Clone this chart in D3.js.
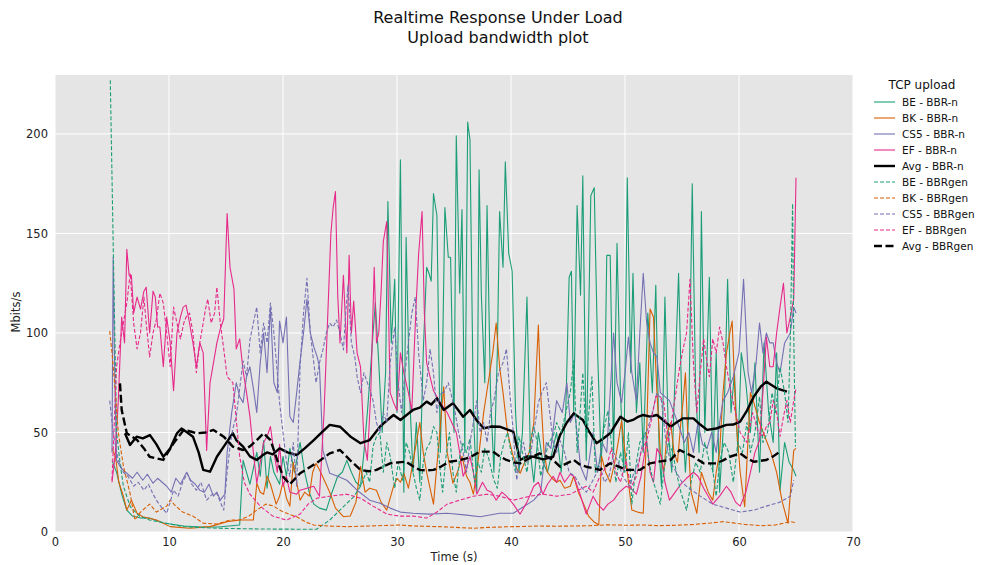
<!DOCTYPE html>
<html>
<head>
<meta charset="utf-8">
<script src="https://cdn.jsdelivr.net/npm/d3@7"></script>
<style>
  body { margin: 0; background: #fff; font-family: "DejaVu Sans", sans-serif; }
  svg text { font-family: "DejaVu Sans", sans-serif; }
</style>
</head>
<body>
<div id="chart"></div>
<script>
// series: [time (s), Mbits/s]
var beN = [[5.0,36],[5.4,30],[5.9,18],[6.3,11],[6.8,8],[7.5,7],[8.3,7],[9.5,4.5],[11.3,3],[12.8,2.5],[14.3,2.5],[16.2,3.5],[16.5,36],[16.8,30],[17.1,24],[17.4,32],[17.7,40],[18.0,28],[18.3,46],[18.6,22],[18.9,38],[19.2,30],[19.7,24],[20.0,38],[20.3,28],[20.6,42],[21.0,30],[21.5,45],[21.9,30],[22.3,20],[22.7,14],[23.2,12],[23.8,11],[24.3,20],[24.8,28],[25.2,30],[25.6,36],[26.0,30],[26.4,25],[26.8,23],[27.1,40],[27.4,60],[27.6,75],[27.9,100],[28.1,115],[28.4,85],[28.7,50],[29.0,80],[29.2,166],[29.5,95],[29.8,127],[30.0,60],[30.3,187],[30.6,20],[30.8,148],[31.1,70],[31.4,30],[31.7,55],[32.0,25],[32.3,90],[32.6,133],[32.8,130],[33.0,126],[33.2,170],[33.5,159],[33.8,40],[34.0,90],[34.2,163],[34.5,138],[34.7,138],[35.0,50],[35.2,199],[35.5,120],[35.7,162],[35.95,40],[36.2,206],[36.4,197],[36.7,60],[37.0,20],[37.2,182],[37.4,119],[37.7,75],[37.9,164],[38.2,70],[38.5,30],[38.8,90],[39.0,161],[39.3,133],[39.5,186],[39.8,140],[40.1,131],[40.4,60],[40.7,30],[41.0,50],[41.4,118],[41.7,40],[42.0,25],[42.4,50],[42.8,35],[43.2,30],[43.6,40],[44.0,50],[44.4,30],[44.8,60],[45.1,128],[45.3,131],[45.5,60],[45.8,164],[46.1,119],[46.3,179],[46.6,36],[47.0,169],[47.3,173],[47.6,90],[47.9,36],[48.2,60],[48.4,139],[48.7,139],[49.0,40],[49.3,145],[49.6,70],[49.9,30],[50.2,178],[50.5,80],[50.7,130],[51.0,60],[51.3,85],[51.6,40],[52.0,110],[52.4,70],[52.7,124],[53.0,40],[53.2,23],[53.5,118],[53.8,50],[54.1,30],[54.4,80],[54.7,130],[55.0,60],[55.3,30],[55.6,60],[55.9,175],[56.2,70],[56.5,40],[56.7,161],[57.0,50],[57.4,128],[57.7,30],[58.0,90],[58.3,20],[58.7,60],[59.0,127],[59.3,60],[59.6,80],[59.9,40],[60.2,90],[60.6,75],[61.0,50],[61.4,85],[61.8,30],[62.2,95],[62.6,60],[63.0,45],[63.3,90],[63.6,21],[64.0,45],[64.4,35],[64.8,31],[65.0,28]];

var bkN = [[5.0,42],[5.3,38],[5.6,25],[6.0,18],[6.3,11],[6.7,16],[7.2,9.4],[7.7,7.7],[8.9,6],[10.1,2.7],[11.8,1.9],[13.6,2.7],[15.1,5.2],[16.2,6],[17.4,6],[17.7,24.5],[18.0,20],[18.3,19],[18.6,28],[18.9,24],[19.4,14],[19.7,18],[20.0,25],[20.3,17],[20.6,13],[20.9,35],[21.2,25],[21.5,16],[21.9,20],[22.3,18],[22.6,30],[22.9,34.5],[23.3,30],[23.7,25],[24.1,20],[24.6,12],[25.3,7.7],[25.9,8],[26.4,15],[26.8,33],[27.2,20],[27.6,22],[28.2,21],[28.6,15],[29.1,11],[29.7,23],[30.0,27],[30.3,25],[30.6,29.5],[31.0,22],[31.4,35],[31.7,45],[32.0,55],[32.3,40],[32.6,30],[33.2,14],[33.6,40],[34.1,73],[34.4,40],[34.9,24.5],[35.3,30],[35.7,38],[36.1,28],[36.4,25],[36.7,19],[37.0,30],[37.3,45],[37.6,60],[38.0,75],[38.4,90],[38.7,105],[39.0,83],[39.3,70],[39.7,50],[40.1,40],[40.5,32],[40.8,29.5],[41.2,35],[41.6,40],[42.0,55],[42.4,104],[42.6,70],[42.9,40],[43.2,30],[43.6,27],[44.0,25],[44.3,26],[44.7,22],[45.2,23],[45.5,28],[45.9,20],[46.3,15],[46.8,8],[47.3,5],[47.7,3.5],[47.95,38],[48.3,30],[48.7,25],[49.1,35],[49.4,45],[49.7,56],[50.0,40],[50.3,25],[50.6,11],[51.1,10],[51.6,9.4],[51.9,50],[52.2,112],[52.5,108],[52.8,70],[53.1,40],[53.4,30],[53.7,50],[54.0,55],[54.3,40],[54.6,35],[54.9,55],[55.1,66],[55.3,80],[55.5,50],[55.8,20],[56.3,9.4],[56.7,30],[57.0,25],[57.3,20],[57.7,16],[58.0,30],[58.3,40],[58.6,70],[58.9,90],[59.2,100],[59.4,106],[59.7,60],[60.1,30],[60.5,12.7],[61.0,70],[61.3,65],[61.8,55],[62.4,46],[62.8,40],[63.3,30],[63.8,15],[64.3,4.4],[64.8,41],[65.0,42]];

var cs5N = [[5.0,40],[5.1,138],[5.25,76],[5.4,36],[5.8,32],[6.3,29.5],[6.8,27],[7.2,30],[7.7,26],[8.1,29],[8.6,24.5],[9.0,27],[9.4,25],[9.8,23],[10.2,20],[10.6,27],[11.0,24],[11.55,30],[11.9,26],[12.3,24],[12.7,21],[13.1,20],[13.5,24],[13.9,18],[14.2,20],[14.5,16],[14.9,19],[15.1,40],[15.5,60],[15.9,75],[16.2,68],[16.5,65],[16.8,78],[17.1,83],[17.4,72],[17.7,60],[18.0,85],[18.3,100],[18.6,80],[18.9,113],[19.2,75],[19.5,70],[19.7,106],[20.0,95],[20.3,108],[20.6,58],[20.9,55],[21.2,70],[21.5,86],[21.8,100],[22.1,117],[22.4,100],[22.7,93],[23.0,88],[23.2,83],[23.5,41],[24.1,29.5],[24.8,28],[25.6,26],[26.5,21],[27.6,16],[28.5,14.4],[29.4,12],[30.3,10],[31.4,9.4],[32.8,9],[34.4,9.4],[36.1,8.5],[37.3,7.7],[39.0,9.4],[40.2,9.4],[41.1,12.7],[42.0,16],[42.6,20],[43.1,45],[43.5,42],[44.0,66],[44.5,60],[44.9,75],[45.2,55],[45.6,60],[46.1,33],[46.6,26],[47.2,50],[47.6,30],[48.0,45],[48.4,40],[48.7,70],[49.0,100],[49.3,75],[49.7,65],[50.0,80],[50.3,98],[50.6,80],[51.0,66],[51.3,100],[51.6,130],[51.9,105],[52.2,95],[52.5,90],[52.8,88],[53.1,70],[53.5,68],[53.9,66],[54.3,60],[54.8,52],[55.2,45],[55.6,50],[56.0,40],[56.4,55],[56.8,44],[57.2,42],[57.6,50],[58.0,40],[58.3,55],[58.6,66],[59.0,70],[59.5,78],[60.0,90],[60.4,127],[60.8,80],[61.1,70],[61.5,85],[61.8,105],[62.1,90],[62.4,100],[62.7,95],[63.0,95],[63.3,85],[63.6,80],[64.0,95],[64.5,100],[64.8,113],[65.0,110]];

var efN = [[5.0,25],[5.3,40],[5.55,66],[5.85,108],[6.1,95],[6.3,142],[6.5,129],[6.7,129],[6.9,110],[7.2,118],[7.5,112],[7.8,121],[8.0,123],[8.3,100],[8.6,121],[8.8,118],[9.0,103],[9.2,103],[9.5,83],[9.8,108],[10.1,95],[10.4,71],[10.7,100],[11.0,108],[11.25,113],[11.5,114],[11.8,105],[12.1,95],[12.4,83],[12.7,95],[13.0,90],[13.3,41],[13.6,75],[13.9,85],[14.2,95],[14.5,102],[14.8,107],[15.1,160],[15.35,133],[15.7,122],[15.9,92],[16.2,97],[16.5,81],[16.8,70],[17.1,58],[17.4,40],[17.7,24.5],[18.0,35],[18.3,45],[18.6,48],[18.9,53],[19.2,40],[19.5,30],[19.7,44],[20.0,23],[20.3,28],[20.6,20],[21.2,19],[21.5,21],[22.1,22],[22.7,23],[23.2,18],[23.6,60],[24.0,120],[24.2,150],[24.4,163],[24.6,171],[24.8,119],[25.0,95],[25.3,129],[25.6,90],[25.8,139],[26.0,100],[26.2,116],[26.5,90],[26.8,83],[27.1,46],[27.4,36],[27.7,70],[28.0,133],[28.2,95],[28.4,100],[28.6,120],[28.8,146],[29.1,156],[29.4,70],[29.7,65],[30.0,61],[30.3,90],[30.6,80],[31.0,70],[31.3,61],[31.5,90],[31.7,117],[31.9,140],[32.2,161],[32.4,110],[32.6,85],[33.2,71],[33.8,65],[34.4,60],[34.8,55],[35.2,50],[35.5,40],[35.8,28],[36.1,32],[36.4,38],[36.7,30],[37.0,19],[37.5,25],[37.9,21],[38.3,20],[38.7,16],[39.2,20],[39.6,18],[40.2,14],[40.8,9],[41.4,15],[42.0,23],[42.4,25],[42.8,19],[43.2,24],[43.7,28],[44.0,25],[44.3,30],[44.7,25],[45.2,29],[45.5,28],[46.0,20],[46.6,9],[47.2,18],[47.6,14],[48.1,11],[48.5,14],[49.0,16],[49.5,20],[50.1,23],[50.5,22],[51.0,19],[51.4,28],[51.9,46],[52.2,30],[52.5,25],[52.8,42],[53.2,38],[53.5,25],[53.9,16],[54.4,20],[54.9,24],[55.4,27],[56.0,30],[56.4,28],[56.9,22],[57.3,18],[57.7,14],[58.3,18],[58.9,23],[59.3,20],[59.7,15],[60.1,13],[60.6,20],[61.0,30],[61.4,40],[61.8,46],[62.1,70],[62.4,98],[62.7,83],[63.0,83],[63.3,100],[63.6,113],[63.9,125],[64.2,100],[64.5,108],[64.8,117],[65.0,178]];

var avgN = [[6.14,49.6],[6.58,43.7],[7.16,47.9],[7.7,47],[8.33,48.7],[8.9,44],[9.5,37.8],[10.1,42],[10.7,49.6],[11.1,52],[11.6,50],[12.1,47.9],[12.6,40],[13.0,31.2],[13.6,30.3],[14.2,37.8],[14.8,42.9],[15.6,49.6],[15.9,46.2],[16.5,42.9],[17.1,38],[17.7,36.2],[18.2,38.5],[18.6,40],[19.1,39],[19.7,42],[20.4,40],[21.2,38.7],[21.9,42],[22.7,46.2],[23.4,50],[24.1,53.8],[25.0,52.9],[25.9,48],[26.8,44.6],[27.6,46.2],[28.5,52.9],[29.1,56],[29.7,58.8],[30.3,56.3],[30.9,59],[31.4,61.3],[32.0,62.5],[32.6,65.5],[33.0,64],[33.5,67.2],[34.1,61.3],[34.9,64.7],[35.4,61],[35.8,57.9],[36.4,61.3],[37.0,56],[37.6,52.1],[38.3,53],[39.0,52.9],[40.2,50.4],[40.8,36.2],[41.4,38],[42.0,37.8],[42.8,36.5],[43.7,37.8],[44.3,48.7],[44.9,55],[45.5,59.6],[46.3,56.3],[46.9,50],[47.5,44.6],[48.1,47],[48.7,49.6],[49.6,57.9],[50.2,55.5],[50.7,56.3],[51.2,58],[51.6,58.8],[52.2,58],[52.8,58.8],[53.4,56],[54.0,52.9],[54.5,55],[55.1,57.1],[56.0,57.1],[56.6,54],[57.2,51.3],[58.0,52],[58.9,53.8],[59.5,54],[60.1,55.4],[60.7,61],[61.3,68],[61.9,73],[62.4,75.5],[63.3,72.2],[64.2,70.5]];

var beGen = [[4.85,227],[5.2,114],[5.4,50],[5.7,35],[6.0,23],[6.6,12.7],[7.4,8],[8.3,6],[9.8,4.4],[11.25,2.7],[14.2,1.9],[18.0,1.5],[21.5,1.4],[22.95,1.4],[24.1,6],[25.3,12.7],[26.2,17.7],[26.8,23],[27.3,30],[27.6,25],[27.9,43],[28.2,48],[28.5,50],[28.8,30],[29.1,45],[29.4,38],[29.8,22],[30.1,35],[30.5,26],[30.8,45],[31.1,40],[31.4,30],[31.7,22],[32.0,16],[32.3,35],[32.6,42],[32.9,45],[33.2,53],[33.5,50],[33.8,30],[34.0,20],[34.3,38],[34.6,50],[34.9,30],[35.2,20],[35.5,38],[35.8,45],[36.1,40],[36.4,47],[36.8,25],[37.1,35],[37.4,30],[37.7,42],[38.0,38],[38.5,26],[38.8,22],[39.1,38],[39.4,45],[39.7,50],[40.0,40],[40.4,30],[40.7,48],[41.0,40],[41.4,30],[41.7,45],[42.0,53],[42.3,45],[42.6,28],[42.9,35],[43.3,45],[43.7,48],[44.0,55],[44.4,50],[44.8,60],[45.2,70],[45.5,86],[45.8,40],[46.0,55],[46.3,80],[46.6,45],[47.1,78],[47.4,30],[47.8,35],[48.1,50],[48.5,61],[48.8,45],[49.2,25],[49.6,40],[50.0,30],[50.3,50],[50.6,14],[51.0,35],[51.3,45],[51.8,50],[52.1,35],[52.5,25],[53.1,14],[53.4,30],[53.8,45],[54.2,40],[54.5,30],[54.9,20],[55.4,11],[55.8,25],[56.2,35],[56.6,30],[57.0,45],[57.4,35],[57.7,31],[58.0,18],[58.3,35],[58.7,45],[59.1,40],[59.5,25],[59.9,45],[60.3,40],[60.7,55],[61.0,40],[61.4,50],[61.8,68],[62.1,45],[62.5,50],[62.9,70],[63.2,60],[63.6,83],[64.0,70],[64.3,55],[64.5,96],[64.7,165],[64.8,100],[64.95,43]];

var bkGen = [[4.8,101],[5.0,90],[5.3,70],[5.55,50],[6.0,33],[6.6,19],[7.0,6],[7.5,10],[8.3,14],[8.9,10],[9.8,13],[10.1,16],[10.6,13],[11.2,10],[12.1,8],[13.0,4.4],[14.2,4],[15.35,6],[16.2,6],[17.0,8],[17.7,11],[18.5,14],[19.2,13],[19.7,11],[20.5,9],[21.2,7.7],[22.0,5],[22.7,3.5],[24.0,3],[25.6,2.7],[27.5,3],[29.0,3.3],[30.3,3.5],[31.5,3],[33.0,2.8],[34.5,2.5],[36.7,1.9],[38.0,2.3],[39.5,2.6],[41.0,2.8],[42.5,3.0],[44.0,2.9],[45.5,3],[47.0,3.2],[48.5,3.6],[50.0,3.4],[51.5,3.5],[53.0,3.2],[54.5,3.4],[56.0,3.8],[57.5,4.5],[58.6,5.2],[59.5,4.6],[60.5,3.8],[62.0,3.2],[63.2,3.5],[64.5,5.2],[64.9,4.8]];

var cs5Gen = [[4.8,66],[5.1,50],[5.55,36],[6.0,30],[6.4,28],[6.9,23],[7.3,25],[7.8,21],[8.2,24],[8.6,19],[9.0,15],[9.4,12],[9.8,9.4],[10.1,15],[10.4,21],[10.8,18],[11.2,25],[11.6,29.5],[12.0,24],[12.4,21],[12.8,25],[13.3,16],[13.8,19],[14.2,19.4],[14.5,15],[14.8,11],[15.1,30],[15.35,43],[15.6,52],[15.9,58],[16.2,72],[16.5,86],[16.8,78],[17.1,96.5],[17.4,105],[17.7,113],[18.0,90],[18.3,105],[18.6,95],[18.9,115],[19.2,100],[19.5,80],[19.7,65],[20.0,50],[20.3,35],[20.6,28],[20.9,45],[21.2,23],[21.5,83],[21.8,110],[22.1,127.5],[22.4,100],[22.6,90],[22.9,75],[23.2,85],[23.5,91.5],[23.8,100],[24.1,105],[24.4,103],[24.7,106.5],[25.0,100],[25.3,91.5],[25.5,110],[25.7,124],[26.0,95],[26.3,88],[26.5,78],[26.8,70],[27.1,80],[27.4,75],[27.7,70],[27.9,66],[28.2,55],[28.5,50],[28.8,60],[29.1,55],[29.4,85],[29.8,103],[30.1,75],[30.4,60],[30.7,80],[31.0,95],[31.3,110],[31.6,118],[31.9,90],[32.3,66],[32.6,75],[32.9,92],[33.2,80],[33.5,60],[33.8,70],[34.1,70],[34.5,75],[34.8,68],[35.1,60],[35.4,50],[35.8,40],[36.1,30],[36.4,45],[36.7,55],[37.0,66],[37.3,50],[37.6,55],[37.9,45],[38.2,60],[38.5,66],[38.9,80],[39.3,85],[39.6,92],[39.9,70],[40.2,50],[40.5,26],[40.8,40],[41.1,45],[41.4,35],[41.7,38],[42.0,50],[42.4,65],[42.7,70],[43.1,75],[43.4,60],[43.7,45],[44.0,40],[44.3,46],[44.7,40],[45.1,30],[45.6,28],[46.1,23],[46.6,20],[47.1,25],[47.8,33],[48.2,25],[48.6,28],[49.0,40],[49.4,35],[49.8,28],[50.4,23],[50.8,30],[51.2,35],[51.6,46],[52.0,52],[52.4,60],[52.8,70],[53.2,66],[53.6,45],[54.0,35],[54.5,30],[55.0,25],[55.4,23],[56.6,18],[57.7,14],[58.9,12],[60.1,10],[61.3,11],[62.4,13],[63.6,15],[64.5,18],[64.8,26]];

var efGen = [[5.0,26],[5.2,55],[5.4,83],[5.7,95],[6.0,105],[6.3,115],[6.6,130],[6.9,105],[7.2,92],[7.5,100],[7.8,118],[8.0,105],[8.3,88],[8.6,100],[8.9,107],[9.2,120],[9.5,115],[9.8,100],[10.1,83],[10.4,113],[10.7,105],[11.0,97],[11.3,105],[11.5,108],[11.8,110],[12.1,100],[12.4,80],[12.7,95],[13.0,105],[13.2,112],[13.4,117],[13.7,105],[14.0,110],[14.2,123],[14.5,105],[14.8,92],[15.1,78],[15.6,75],[16.2,38],[16.6,25],[17.1,19],[18.0,13],[19.1,8],[20.3,6],[21.5,9],[22.2,14],[23.0,17],[24.1,18],[25.6,19],[26.8,17],[27.9,13],[29.1,9],[30.2,8],[31.4,8],[32.6,7],[33.5,10],[34.4,14],[35.5,16],[36.7,18],[37.9,19],[39.0,18],[40.2,16],[41.7,18],[42.8,19],[44.0,18],[45.2,19],[45.9,21],[46.6,23],[47.2,20],[47.8,28],[48.4,33],[48.8,42],[49.2,30],[49.6,25],[50.1,36],[50.5,22],[51.0,28],[51.4,40],[51.9,46],[52.3,56],[52.7,68],[53.1,68],[53.4,65],[53.8,45],[54.2,60],[54.8,83],[55.1,92],[55.4,100],[55.7,127],[56.0,85],[56.3,60],[56.6,80],[56.9,97],[57.2,85],[57.4,78],[57.7,97],[58.0,90],[58.3,103],[58.6,95],[58.9,83],[59.3,70],[59.7,60],[60.1,50],[60.7,45],[61.2,60],[61.7,50],[62.1,48],[62.4,53],[62.7,55],[63.0,66],[63.3,60],[63.6,48],[63.9,58],[64.2,66],[64.5,55],[64.8,66],[65.0,72]];

var avgGen = [[5.7,74.7],[5.85,61.3],[6.3,49.6],[7.2,46.2],[7.8,42],[8.3,37.8],[9.5,36.2],[10.4,44.6],[11.3,51.3],[11.9,50.5],[12.4,49.6],[13.2,50],[13.9,51.3],[14.8,47.9],[15.6,42.9],[16.5,41.2],[17.1,43],[17.7,46.2],[18.3,49.6],[18.9,46.2],[19.5,36],[20.0,27.8],[20.6,24],[21.5,29.5],[22.2,32],[22.9,34.5],[23.5,37],[24.1,39.5],[25.0,41.2],[25.9,36],[26.8,31.2],[27.5,30.5],[28.2,31.2],[29.4,34.5],[30.1,35],[30.8,35.3],[31.4,33],[32.0,31.2],[32.6,31],[33.2,31.2],[33.9,33],[34.6,35.3],[35.4,36],[36.1,37],[36.7,38.5],[37.3,40.4],[38.4,40.4],[39.0,38],[39.6,36.2],[40.2,35],[40.8,34.5],[41.6,37],[42.5,39.5],[43.1,38],[43.7,36.2],[44.3,32.8],[44.9,34.5],[45.5,36.2],[46.0,34],[46.6,32.8],[47.2,32],[47.8,31.2],[48.7,34.5],[49.4,33],[50.1,31.2],[51.3,31.2],[52.2,34.5],[53.1,35.5],[54.0,36.2],[54.8,41.2],[55.4,39.5],[56.0,37.8],[56.9,34.5],[58.0,34.5],[58.6,36],[59.2,37.8],[60.1,39.5],[60.7,37],[61.3,35.3],[62.4,36.2],[63.0,38],[63.6,40.4]];

var seriesNames = ["BE - BBR-n", "BK - BBR-n", "CS5 - BBR-n", "EF - BBR-n", "Avg - BBR-n",
  "BE - BBRgen", "BK - BBRgen", "CS5 - BBRgen", "EF - BBRgen", "Avg - BBRgen"];
var seriesData = [beN, bkN, cs5N, efN, avgN, beGen, bkGen, cs5Gen, efGen, avgGen];
var seriesColors = ["#1b9e77", "#d95f02", "#7570b3", "#e7298a", "#000000",
  "#1b9e77", "#d95f02", "#7570b3", "#e7298a", "#000000"];
var xTicks = [0, 10, 20, 30, 40, 50, 60, 70];
var yTicks = [0, 50, 100, 150, 200];

var W = 983, H = 565;
var margin = { top: 75, right: 130, bottom: 33, left: 55 },
  width = 853 - margin.left,
  height = 532 - margin.top;

var svg = d3.select("#chart").append("svg")
  .attr("width", W)
  .attr("height", H);

// title
svg.append("text")
  .attr("x", 498).attr("y", 23)
  .attr("text-anchor", "middle")
  .style("font-size", "16px")
  .attr("fill", "#111")
  .text("Realtime Response Under Load");
svg.append("text")
  .attr("x", 498).attr("y", 43)
  .attr("text-anchor", "middle")
  .style("font-size", "16px")
  .attr("fill", "#111")
  .text("Upload bandwidth plot");

var g = svg.append("g")
  .attr("transform", "translate(" + margin.left + "," + margin.top + ")");

var x = d3.scaleLinear().domain([0, 70]).range([0, width]);
var y = d3.scaleLinear().domain([0, 229.6]).range([height, 0]);

g.append("rect")
  .attr("width", width).attr("height", height)
  .attr("fill", "#e5e5e5");

// grid
g.append("g").selectAll("line").data(xTicks).enter().append("line")
  .attr("x1", d => x(d)).attr("x2", d => x(d))
  .attr("y1", 0).attr("y2", height)
  .attr("stroke", "#fff").attr("stroke-width", 1);
g.append("g").selectAll("line").data(yTicks).enter().append("line")
  .attr("y1", d => y(d)).attr("y2", d => y(d))
  .attr("x1", 0).attr("x2", width)
  .attr("stroke", "#fff").attr("stroke-width", 1);

// axes
var xAxis = g.append("g")
  .attr("transform", "translate(0," + height + ")")
  .call(d3.axisBottom(x).tickValues(xTicks).tickSize(0).tickPadding(6));
var yAxis = g.append("g")
  .call(d3.axisLeft(y).tickValues(yTicks).tickSize(0).tickPadding(7));
[xAxis, yAxis].forEach(function (a) {
  a.select(".domain").remove();
  a.selectAll("text")
    .style("font-size", "11.5px")
    .style("font-family", "DejaVu Sans, sans-serif")
    .attr("fill", "#222");
});

svg.append("text")
  .attr("x", margin.left + width / 2).attr("y", 561)
  .attr("text-anchor", "middle")
  .style("font-size", "11.5px")
  .attr("fill", "#222")
  .text("Time (s)");
svg.append("text")
  .attr("transform", "translate(20,312) rotate(-90)")
  .attr("text-anchor", "middle")
  .style("font-size", "11.5px")
  .attr("fill", "#222")
  .text("Mbits/s");

// lines
g.append("clipPath").attr("id", "clip")
  .append("rect").attr("width", width).attr("height", height);

var line = d3.line()
  .x(d => x(d[0]))
  .y(d => y(d[1]));

var plot = g.append("g").attr("clip-path", "url(#clip)");
seriesData.forEach(function (data, i) {
  var isAvg = i === 4 || i === 9;
  var dashed = i >= 5;
  plot.append("path")
    .datum(data)
    .attr("d", line)
    .attr("fill", "none")
    .attr("stroke", seriesColors[i])
    .attr("stroke-width", isAvg ? 2.4 : 1.1)
    .attr("stroke-linejoin", "round")
    .attr("stroke-dasharray", dashed ? (isAvg ? "8,3.5" : "4,2") : null);
});

// legend
var legend = svg.append("g").attr("transform", "translate(872,0)");
legend.append("text")
  .attr("x", 50).attr("y", 89)
  .attr("text-anchor", "middle")
  .style("font-size", "12px")
  .attr("fill", "#111")
  .text("TCP upload");

var items = legend.selectAll(".item")
  .data(seriesNames)
  .enter().append("g")
  .attr("transform", function (d, i) { return "translate(0," + (102 + i * 16) + ")"; });

items.append("line")
  .attr("x1", 2).attr("x2", 23)
  .attr("stroke", (d, i) => seriesColors[i])
  .attr("stroke-width", (d, i) => (i === 4 || i === 9) ? 2.4 : 1.1)
  .attr("stroke-dasharray", (d, i) => i >= 5 ? ((i === 9) ? "8,3.5" : "4,2") : null);

items.append("text")
  .attr("x", 30).attr("y", 0)
  .attr("dy", "0.35em")
  .style("font-size", "10.5px")
  .attr("fill", "#111")
  .text(d => d);
</script>
</body>
</html>
